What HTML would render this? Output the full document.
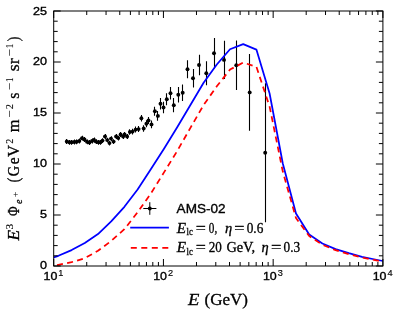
<!DOCTYPE html><html><head><meta charset="utf-8"><style>html,body{margin:0;padding:0;background:#fff;}svg{display:block;will-change:transform;opacity:0.999;}text{font-family:"Liberation Sans",sans-serif;fill:#000;}.s{font-family:"Liberation Serif",serif;stroke:#000;stroke-width:0.3px;}.i{font-style:italic;}.p{stroke-width:0.1px;}</style></head><body>
<svg width="399" height="315" viewBox="0 0 399 315">
<rect width="399" height="315" fill="#fff"/>
<defs><clipPath id="c"><rect x="53.7" y="11" width="329.2" height="255"/></clipPath></defs>
<g clip-path="url(#c)">
<line x1="66.5" y1="139.1" x2="66.5" y2="143.9" stroke="#000" stroke-width="1.1"/>
<line x1="69.5" y1="139.9" x2="69.5" y2="144.7" stroke="#000" stroke-width="1.1"/>
<line x1="71.5" y1="139.9" x2="71.5" y2="144.7" stroke="#000" stroke-width="1.1"/>
<line x1="74.5" y1="139.6" x2="74.5" y2="144.4" stroke="#000" stroke-width="1.1"/>
<line x1="76.5" y1="139.4" x2="76.5" y2="144.2" stroke="#000" stroke-width="1.1"/>
<line x1="79.5" y1="138.6" x2="79.5" y2="143.4" stroke="#000" stroke-width="1.1"/>
<line x1="82.5" y1="135.8" x2="82.5" y2="140.6" stroke="#000" stroke-width="1.1"/>
<line x1="84.5" y1="137.1" x2="84.5" y2="141.9" stroke="#000" stroke-width="1.1"/>
<line x1="87.5" y1="139.4" x2="87.5" y2="144.2" stroke="#000" stroke-width="1.1"/>
<line x1="89.5" y1="140.1" x2="89.5" y2="144.9" stroke="#000" stroke-width="1.1"/>
<line x1="92.5" y1="138.6" x2="92.5" y2="143.4" stroke="#000" stroke-width="1.1"/>
<line x1="94.5" y1="137.6" x2="94.5" y2="142.4" stroke="#000" stroke-width="1.1"/>
<line x1="96.5" y1="139.2" x2="96.5" y2="144" stroke="#000" stroke-width="1.1"/>
<line x1="98.5" y1="139.9" x2="98.5" y2="144.7" stroke="#000" stroke-width="1.1"/>
<line x1="100.5" y1="139.9" x2="100.5" y2="144.7" stroke="#000" stroke-width="1.1"/>
<line x1="102.5" y1="138.2" x2="102.5" y2="143" stroke="#000" stroke-width="1.1"/>
<line x1="105.5" y1="134.1" x2="105.5" y2="138.9" stroke="#000" stroke-width="1.1"/>
<line x1="107.5" y1="137.7" x2="107.5" y2="142.5" stroke="#000" stroke-width="1.1"/>
<line x1="109.5" y1="140.7" x2="109.5" y2="145.5" stroke="#000" stroke-width="1.1"/>
<line x1="111.5" y1="136.2" x2="111.5" y2="141" stroke="#000" stroke-width="1.1"/>
<line x1="113.5" y1="139.2" x2="113.5" y2="144" stroke="#000" stroke-width="1.1"/>
<line x1="116.5" y1="134.1" x2="116.5" y2="138.9" stroke="#000" stroke-width="1.1"/>
<line x1="118.5" y1="135.7" x2="118.5" y2="140.5" stroke="#000" stroke-width="1.1"/>
<line x1="120.5" y1="132" x2="120.5" y2="137" stroke="#000" stroke-width="1.1"/>
<line x1="123.5" y1="134" x2="123.5" y2="139" stroke="#000" stroke-width="1.1"/>
<line x1="124.5" y1="132" x2="124.5" y2="137" stroke="#000" stroke-width="1.1"/>
<line x1="127.5" y1="134" x2="127.5" y2="139" stroke="#000" stroke-width="1.1"/>
<line x1="129.5" y1="129.2" x2="129.5" y2="134.8" stroke="#000" stroke-width="1.1"/>
<line x1="132.5" y1="128.8" x2="132.5" y2="134.4" stroke="#000" stroke-width="1.1"/>
<line x1="135.5" y1="126.6" x2="135.5" y2="132.6" stroke="#000" stroke-width="1.1"/>
<line x1="138.5" y1="126.1" x2="138.5" y2="132.1" stroke="#000" stroke-width="1.1"/>
<line x1="141.5" y1="115" x2="141.5" y2="121.4" stroke="#000" stroke-width="1.1"/>
<line x1="143.5" y1="125.2" x2="143.5" y2="131.8" stroke="#000" stroke-width="1.1"/>
<line x1="146.5" y1="120.3" x2="146.5" y2="127.3" stroke="#000" stroke-width="1.1"/>
<line x1="148.5" y1="116.9" x2="148.5" y2="123.9" stroke="#000" stroke-width="1.1"/>
<line x1="151.5" y1="120.6" x2="151.5" y2="128.2" stroke="#000" stroke-width="1.1"/>
<line x1="154.5" y1="106.7" x2="154.5" y2="115.7" stroke="#000" stroke-width="1.1"/>
<line x1="157.5" y1="111.1" x2="157.5" y2="120.7" stroke="#000" stroke-width="1.1"/>
<line x1="160.5" y1="98" x2="160.5" y2="109.4" stroke="#000" stroke-width="1.1"/>
<line x1="163.5" y1="101.7" x2="163.5" y2="113.3" stroke="#000" stroke-width="1.1"/>
<line x1="166.5" y1="93.2" x2="166.5" y2="105.2" stroke="#000" stroke-width="1.1"/>
<line x1="170.5" y1="86.9" x2="170.5" y2="99.5" stroke="#000" stroke-width="1.1"/>
<line x1="173.5" y1="98.1" x2="173.5" y2="112.3" stroke="#000" stroke-width="1.1"/>
<line x1="178.5" y1="87" x2="178.5" y2="102.6" stroke="#000" stroke-width="1.1"/>
<line x1="182.5" y1="84.6" x2="182.5" y2="101" stroke="#000" stroke-width="1.1"/>
<line x1="187.5" y1="60.2" x2="187.5" y2="78.2" stroke="#000" stroke-width="1.1"/>
<line x1="193.5" y1="69" x2="193.5" y2="87.6" stroke="#000" stroke-width="1.1"/>
<line x1="199.5" y1="54.8" x2="199.5" y2="75.2" stroke="#000" stroke-width="1.1"/>
<line x1="206.5" y1="61.2" x2="206.5" y2="85.2" stroke="#000" stroke-width="1.1"/>
<line x1="214.5" y1="38" x2="214.5" y2="68.6" stroke="#000" stroke-width="1.1"/>
<line x1="224.5" y1="40.7" x2="224.5" y2="79.1" stroke="#000" stroke-width="1.1"/>
<line x1="236.5" y1="40.5" x2="236.5" y2="90.1" stroke="#000" stroke-width="1.1"/>
<line x1="249.5" y1="54" x2="249.5" y2="130.8" stroke="#000" stroke-width="1.1"/>
<line x1="265.5" y1="83.2" x2="265.5" y2="222.2" stroke="#000" stroke-width="1.1"/>
<circle cx="66.8" cy="141.5" r="1.95" fill="#000"/>
<circle cx="69.3" cy="142.3" r="1.95" fill="#000"/>
<circle cx="71.8" cy="142.3" r="1.95" fill="#000"/>
<circle cx="74.3" cy="142" r="1.95" fill="#000"/>
<circle cx="76.8" cy="141.8" r="1.95" fill="#000"/>
<circle cx="79.3" cy="141" r="1.95" fill="#000"/>
<circle cx="82" cy="138.2" r="1.95" fill="#000"/>
<circle cx="84.5" cy="139.5" r="1.95" fill="#000"/>
<circle cx="87" cy="141.8" r="1.95" fill="#000"/>
<circle cx="89.5" cy="142.5" r="1.95" fill="#000"/>
<circle cx="92" cy="141" r="1.95" fill="#000"/>
<circle cx="94" cy="140" r="1.95" fill="#000"/>
<circle cx="96" cy="141.6" r="1.95" fill="#000"/>
<circle cx="98.5" cy="142.3" r="1.95" fill="#000"/>
<circle cx="100.5" cy="142.3" r="1.95" fill="#000"/>
<circle cx="102.5" cy="140.6" r="1.95" fill="#000"/>
<circle cx="105" cy="136.5" r="1.95" fill="#000"/>
<circle cx="107.2" cy="140.1" r="1.95" fill="#000"/>
<circle cx="109.5" cy="143.1" r="1.95" fill="#000"/>
<circle cx="111" cy="138.6" r="1.95" fill="#000"/>
<circle cx="113.6" cy="141.6" r="1.95" fill="#000"/>
<circle cx="116.1" cy="136.5" r="1.95" fill="#000"/>
<circle cx="118.3" cy="138.1" r="1.95" fill="#000"/>
<circle cx="120.6" cy="134.5" r="1.95" fill="#000"/>
<circle cx="123.1" cy="136.5" r="1.95" fill="#000"/>
<circle cx="124.6" cy="134.5" r="1.95" fill="#000"/>
<circle cx="127.1" cy="136.5" r="1.95" fill="#000"/>
<circle cx="129.9" cy="132" r="1.95" fill="#000"/>
<circle cx="132.6" cy="131.6" r="1.95" fill="#000"/>
<circle cx="135.6" cy="129.6" r="1.95" fill="#000"/>
<circle cx="138.6" cy="129.1" r="1.95" fill="#000"/>
<circle cx="141.4" cy="118.2" r="1.95" fill="#000"/>
<circle cx="143.7" cy="128.5" r="1.95" fill="#000"/>
<circle cx="146.4" cy="123.8" r="1.95" fill="#000"/>
<circle cx="148.5" cy="120.4" r="1.95" fill="#000"/>
<circle cx="151.5" cy="124.4" r="1.95" fill="#000"/>
<circle cx="154.9" cy="111.2" r="1.95" fill="#000"/>
<circle cx="157.9" cy="115.9" r="1.95" fill="#000"/>
<circle cx="160.5" cy="103.7" r="1.95" fill="#000"/>
<circle cx="163.5" cy="107.5" r="1.95" fill="#000"/>
<circle cx="166.8" cy="99.2" r="1.95" fill="#000"/>
<circle cx="170.5" cy="93.2" r="1.95" fill="#000"/>
<circle cx="173.8" cy="105.2" r="1.95" fill="#000"/>
<circle cx="178.3" cy="94.8" r="1.95" fill="#000"/>
<circle cx="182.7" cy="92.8" r="1.95" fill="#000"/>
<circle cx="187.5" cy="69.2" r="1.95" fill="#000"/>
<circle cx="193" cy="78.3" r="1.95" fill="#000"/>
<circle cx="199" cy="65" r="1.95" fill="#000"/>
<circle cx="206.3" cy="73.2" r="1.95" fill="#000"/>
<circle cx="214" cy="53.3" r="1.95" fill="#000"/>
<circle cx="224" cy="59.9" r="1.95" fill="#000"/>
<circle cx="236.3" cy="65.3" r="1.95" fill="#000"/>
<circle cx="249.7" cy="92.4" r="1.95" fill="#000"/>
<circle cx="265.2" cy="152.7" r="1.95" fill="#000"/>
<polyline fill="none" stroke="#0000ff" stroke-width="1.75" stroke-linejoin="round" points="53.7,257.3 58.4,255.8 71.6,250.1 84.8,242.9 98,234.1 111.2,221.4 124.4,206.8 137.6,189.5 150.8,169.3 164,148.8 177.2,127.3 190.4,105 203.6,82.8 216.8,64.5 230,49.3 243.2,44.1 256.4,49.6 269.6,93.5 282.8,163.5 296,213.5 309.2,234.5 322.4,243.5 335.6,249.1 348.8,253.2 362,256.8 375.2,259.5 382.9,261"/>
<polyline fill="none" stroke="#ff0000" stroke-width="1.75" stroke-dasharray="6 4.3" stroke-dashoffset="6.89" stroke-linejoin="round" points="53.7,265.9 58.4,264.8 71.6,262.2 84.8,258.2 98,250.8 111.2,240.9 124.4,229.2 137.6,212.3 150.8,193.6 164,172.4 177.2,151 190.4,127.9 203.6,105 216.8,86.3 230,69.6 243.2,62.6 256.4,66.8 269.6,106.6 282.8,171.6 296,218.1 309.2,236.1 322.4,244.8 335.6,250.2 348.8,254.1 362,257.6 375.2,260.2 382.9,261.6"/>
</g>
<rect x="53.7" y="11" width="329.2" height="255" fill="none" stroke="#000" stroke-width="1"/>
<path d="M53.7 266v-7M53.7 11v7M86.73 266v-4M86.73 11v4M106.06 266v-4M106.06 11v4M119.77 266v-4M119.77 11v4M130.40 266v-4M130.40 11v4M139.09 266v-4M139.09 11v4M146.44 266v-4M146.44 11v4M152.80 266v-4M152.80 11v4M158.41 266v-4M158.41 11v4M163.433 266v-7M163.433 11v7M196.47 266v-4M196.47 11v4M215.79 266v-4M215.79 11v4M229.50 266v-4M229.50 11v4M240.13 266v-4M240.13 11v4M248.82 266v-4M248.82 11v4M256.17 266v-4M256.17 11v4M262.53 266v-4M262.53 11v4M268.15 266v-4M268.15 11v4M273.167 266v-7M273.167 11v7M306.20 266v-4M306.20 11v4M325.52 266v-4M325.52 11v4M339.23 266v-4M339.23 11v4M349.87 266v-4M349.87 11v4M358.56 266v-4M358.56 11v4M365.90 266v-4M365.90 11v4M372.27 266v-4M372.27 11v4M377.88 266v-4M377.88 11v4M382.9 266v-7M382.9 11v7M53.7 266.00h7 M382.9 266.00h-7M53.7 255.80h4 M382.9 255.80h-4M53.7 245.60h4 M382.9 245.60h-4M53.7 235.40h4 M382.9 235.40h-4M53.7 225.20h4 M382.9 225.20h-4M53.7 215.00h7 M382.9 215.00h-7M53.7 204.80h4 M382.9 204.80h-4M53.7 194.60h4 M382.9 194.60h-4M53.7 184.40h4 M382.9 184.40h-4M53.7 174.20h4 M382.9 174.20h-4M53.7 164.00h7 M382.9 164.00h-7M53.7 153.80h4 M382.9 153.80h-4M53.7 143.60h4 M382.9 143.60h-4M53.7 133.40h4 M382.9 133.40h-4M53.7 123.20h4 M382.9 123.20h-4M53.7 113.00h7 M382.9 113.00h-7M53.7 102.80h4 M382.9 102.80h-4M53.7 92.60h4 M382.9 92.60h-4M53.7 82.40h4 M382.9 82.40h-4M53.7 72.20h4 M382.9 72.20h-4M53.7 62.00h7 M382.9 62.00h-7M53.7 51.80h4 M382.9 51.80h-4M53.7 41.60h4 M382.9 41.60h-4M53.7 31.40h4 M382.9 31.40h-4M53.7 21.20h4 M382.9 21.20h-4M53.7 11.00h7 M382.9 11.00h-7" stroke="#000" stroke-width="1" fill="none"/>
<text x="39.9" y="269.2" font-size="11.5" stroke="#000" stroke-width="0.36" textLength="7" lengthAdjust="spacingAndGlyphs">0</text>
<text x="39.9" y="218.2" font-size="11.5" stroke="#000" stroke-width="0.36" textLength="7" lengthAdjust="spacingAndGlyphs">5</text>
<text x="32.9" y="167.2" font-size="11.5" stroke="#000" stroke-width="0.36" textLength="14" lengthAdjust="spacingAndGlyphs">10</text>
<text x="32.9" y="116.2" font-size="11.5" stroke="#000" stroke-width="0.36" textLength="14" lengthAdjust="spacingAndGlyphs">15</text>
<text x="32.9" y="65.2" font-size="11.5" stroke="#000" stroke-width="0.36" textLength="14" lengthAdjust="spacingAndGlyphs">20</text>
<text x="32.9" y="14.6" font-size="11.5" stroke="#000" stroke-width="0.36" textLength="14" lengthAdjust="spacingAndGlyphs">25</text>
<text x="43.5" y="280.1" font-size="11.5" stroke="#000" stroke-width="0.36" textLength="13.8" lengthAdjust="spacingAndGlyphs">10</text>
<text x="58.2" y="276.1" font-size="8.6" stroke="#000" stroke-width="0.15" textLength="5.1" lengthAdjust="spacingAndGlyphs">1</text>
<text x="153.233" y="280.1" font-size="11.5" stroke="#000" stroke-width="0.36" textLength="13.8" lengthAdjust="spacingAndGlyphs">10</text>
<text x="167.933" y="276.1" font-size="8.6" stroke="#000" stroke-width="0.15" textLength="5.1" lengthAdjust="spacingAndGlyphs">2</text>
<text x="262.967" y="280.1" font-size="11.5" stroke="#000" stroke-width="0.36" textLength="13.8" lengthAdjust="spacingAndGlyphs">10</text>
<text x="277.667" y="276.1" font-size="8.6" stroke="#000" stroke-width="0.15" textLength="5.1" lengthAdjust="spacingAndGlyphs">3</text>
<text x="372.7" y="280.1" font-size="11.5" stroke="#000" stroke-width="0.36" textLength="13.8" lengthAdjust="spacingAndGlyphs">10</text>
<text x="387.4" y="276.1" font-size="8.6" stroke="#000" stroke-width="0.15" textLength="5.1" lengthAdjust="spacingAndGlyphs">4</text>
<text class="s i" x="188" y="304.5" font-size="16.5" textLength="11.4" lengthAdjust="spacingAndGlyphs">E</text>
<text class="s" x="204.5" y="304.5" font-size="16.5" textLength="43.5" lengthAdjust="spacingAndGlyphs">(GeV)</text>
<g transform="translate(19.2,240.5) rotate(-90)"><text class="s i" x="0" y="0" font-size="16" textLength="10.5" lengthAdjust="spacingAndGlyphs">E</text><text class="s p" x="11" y="-6.2" font-size="10.8" textLength="5.6" lengthAdjust="spacingAndGlyphs">3</text><text class="s" x="24.4" y="0" font-size="17.5" textLength="9.6" lengthAdjust="spacingAndGlyphs">&#934;</text><text class="s i" x="36.5" y="3" font-size="11.2" textLength="4.6" lengthAdjust="spacingAndGlyphs">e</text><text class="s p" x="43.3" y="-1.3" font-size="8.5" textLength="5.4" lengthAdjust="spacingAndGlyphs">+</text><text class="s" x="58.3" y="0" font-size="16" textLength="4.5" lengthAdjust="spacingAndGlyphs">(</text><text class="s" x="64.3" y="0" font-size="16" textLength="10.4" lengthAdjust="spacingAndGlyphs">G</text><text class="s" x="76.3" y="0" font-size="16" textLength="6.8" lengthAdjust="spacingAndGlyphs">e</text><text class="s" x="83.6" y="0" font-size="16" textLength="12" lengthAdjust="spacingAndGlyphs">V</text><text class="s p" x="96.8" y="-6.2" font-size="10.8" textLength="5" lengthAdjust="spacingAndGlyphs">2</text><text class="s" x="108.3" y="0" font-size="16" textLength="12.8" lengthAdjust="spacingAndGlyphs">m</text><text class="s p" x="122.8" y="-6.2" font-size="10.8" textLength="7.4" lengthAdjust="spacingAndGlyphs">&#8722;</text><text class="s p" x="131.3" y="-6.2" font-size="10.8" textLength="5.2" lengthAdjust="spacingAndGlyphs">2</text><text class="s" x="141.8" y="0" font-size="16" textLength="6.2" lengthAdjust="spacingAndGlyphs">s</text><text class="s p" x="150.3" y="-6.2" font-size="10.8" textLength="7.4" lengthAdjust="spacingAndGlyphs">&#8722;</text><text class="s p" x="158.6" y="-6.2" font-size="10.8" textLength="4.4" lengthAdjust="spacingAndGlyphs">1</text><text class="s" x="169.3" y="0" font-size="16" textLength="12.8" lengthAdjust="spacingAndGlyphs">sr</text><text class="s p" x="183.9" y="-6.2" font-size="10.8" textLength="7.4" lengthAdjust="spacingAndGlyphs">&#8722;</text><text class="s p" x="192.2" y="-6.2" font-size="10.8" textLength="4.4" lengthAdjust="spacingAndGlyphs">1</text><text class="s" x="199.3" y="0" font-size="16" textLength="4.5" lengthAdjust="spacingAndGlyphs">)</text></g>
<line x1="143.3" y1="208.5" x2="156.4" y2="208.5" stroke="#000" stroke-width="1"/><line x1="149.8" y1="202.2" x2="149.8" y2="214.8" stroke="#000" stroke-width="1"/><circle cx="149.8" cy="208.5" r="1.95"/>
<line x1="130.2" y1="227.6" x2="168.9" y2="227.6" stroke="#0000ff" stroke-width="1.6"/>
<line x1="130.8" y1="247.9" x2="168.4" y2="247.9" stroke="#ff0000" stroke-width="1.6" stroke-dasharray="6 4.5"/>
<text x="176.6" y="213.4" font-size="13.2" stroke="#000" stroke-width="0.35" textLength="49" lengthAdjust="spacingAndGlyphs">AMS-02</text>
<text class="s i" x="176.8" y="232.6" font-size="13.6" textLength="9.3" lengthAdjust="spacingAndGlyphs">E</text>
<text class="s" x="186.6" y="234.8" font-size="10" textLength="6.3" lengthAdjust="spacingAndGlyphs">lc</text>
<text class="s" x="195.8" y="232.6" font-size="14" textLength="10.1" lengthAdjust="spacingAndGlyphs">=</text>
<text class="s i" x="176.8" y="252.4" font-size="13.6" textLength="9.3" lengthAdjust="spacingAndGlyphs">E</text>
<text class="s" x="186.6" y="254.6" font-size="10" textLength="6.3" lengthAdjust="spacingAndGlyphs">lc</text>
<text class="s" x="195.8" y="252.4" font-size="14" textLength="10.1" lengthAdjust="spacingAndGlyphs">=</text>
<text class="s" x="208.8" y="232.6" font-size="14" textLength="8.4" lengthAdjust="spacingAndGlyphs">0,</text>
<text class="s i" x="225" y="232.6" font-size="14" textLength="7.2" lengthAdjust="spacingAndGlyphs">&#951;</text>
<text class="s" x="234.3" y="232.6" font-size="14" textLength="10.2" lengthAdjust="spacingAndGlyphs">=</text>
<text class="s" x="246.7" y="232.6" font-size="14" textLength="16.6" lengthAdjust="spacingAndGlyphs">0.6</text>
<text class="s" x="208.8" y="252.4" font-size="14" textLength="13.1" lengthAdjust="spacingAndGlyphs">20</text>
<text class="s" x="226.4" y="252.4" font-size="14" textLength="28.8" lengthAdjust="spacingAndGlyphs">GeV,</text>
<text class="s i" x="261.5" y="252.4" font-size="14" textLength="7.2" lengthAdjust="spacingAndGlyphs">&#951;</text>
<text class="s" x="271" y="252.4" font-size="14" textLength="10.4" lengthAdjust="spacingAndGlyphs">=</text>
<text class="s" x="283.5" y="252.4" font-size="14" textLength="16.6" lengthAdjust="spacingAndGlyphs">0.3</text>
</svg></body></html>
